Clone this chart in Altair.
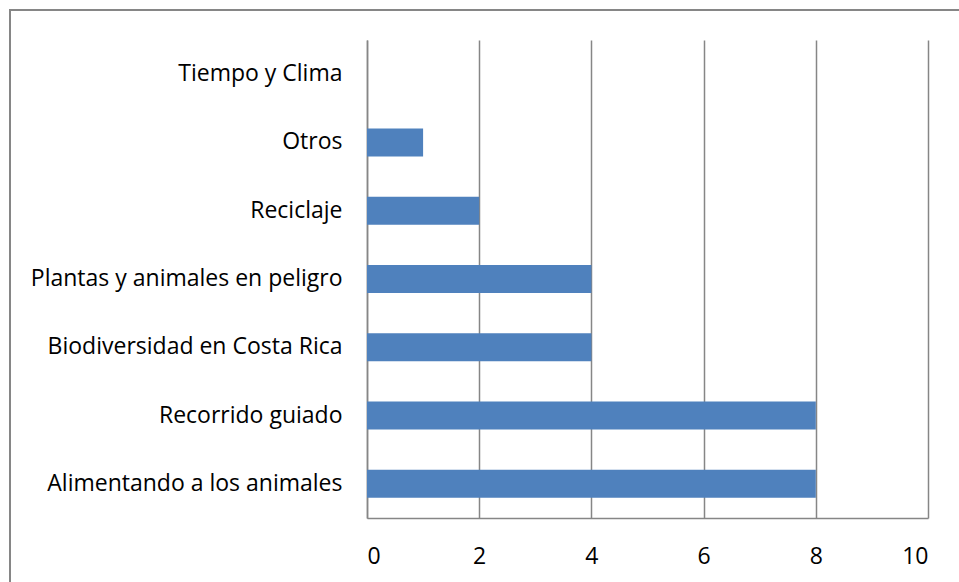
import altair as alt
import pandas as pd

# Activity topics and how many times each was chosen
topics = [
    "Tiempo y Clima",
    "Otros",
    "Reciclaje",
    "Plantas y animales en peligro",
    "Biodiversidad en Costa Rica",
    "Recorrido guiado",
    "Alimentando a los animales",
]
counts = [0, 1, 2, 4, 4, 8, 8]
x_ticks = [0, 2, 4, 6, 8, 10]

df = pd.DataFrame({"tema": topics, "valor": counts})

W, H = 561, 478
LEFT, TOP = 367, 40
GREY = "#868686"
FONT = "Open Sans"
FSIZE = 23

bars = alt.Chart(df).mark_bar(size=28, color="#4F81BD").encode(
    y=alt.Y(
        "tema:N",
        sort=topics,
        title=None,
        axis=alt.Axis(
            labelFont=FONT, labelFontSize=FSIZE, labelColor="#000000",
            labelPadding=25, ticks=False, domainColor=GREY, domainWidth=1.5,
            labelLimit=400,
        ),
    ),
    x=alt.X(
        "valor:Q",
        scale=alt.Scale(domain=[0, 10], nice=False),
        title=None,
        axis=alt.Axis(
            values=x_ticks, labelFont=FONT, labelFontSize=FSIZE, labelColor="#000000",
            labelPadding=27, ticks=False, grid=True, gridColor=GREY, gridWidth=1.5,
            domainColor=GREY, domainWidth=1.5,
        ),
    ),
)

# outer frame around the whole chart
frame = alt.Chart(df).mark_rect(
    fill=None, stroke=GREY, strokeWidth=1.5, clip=False
).encode(
    x=alt.value(10 - LEFT),
    x2=alt.value(990 - LEFT),
    y=alt.value(10 - TOP),
    y2=alt.value(620 - TOP),
)

chart = alt.layer(frame, bars).properties(
    width=W, height=H,
    autosize=alt.AutoSizeParams(type="none"),
    padding={"left": LEFT, "top": TOP, "right": 959 - LEFT - W, "bottom": 582 - TOP - H},
    background="white",
).configure_view(stroke=None)

chart.save("out.html", embed_options={"renderer": "svg", "actions": False})
